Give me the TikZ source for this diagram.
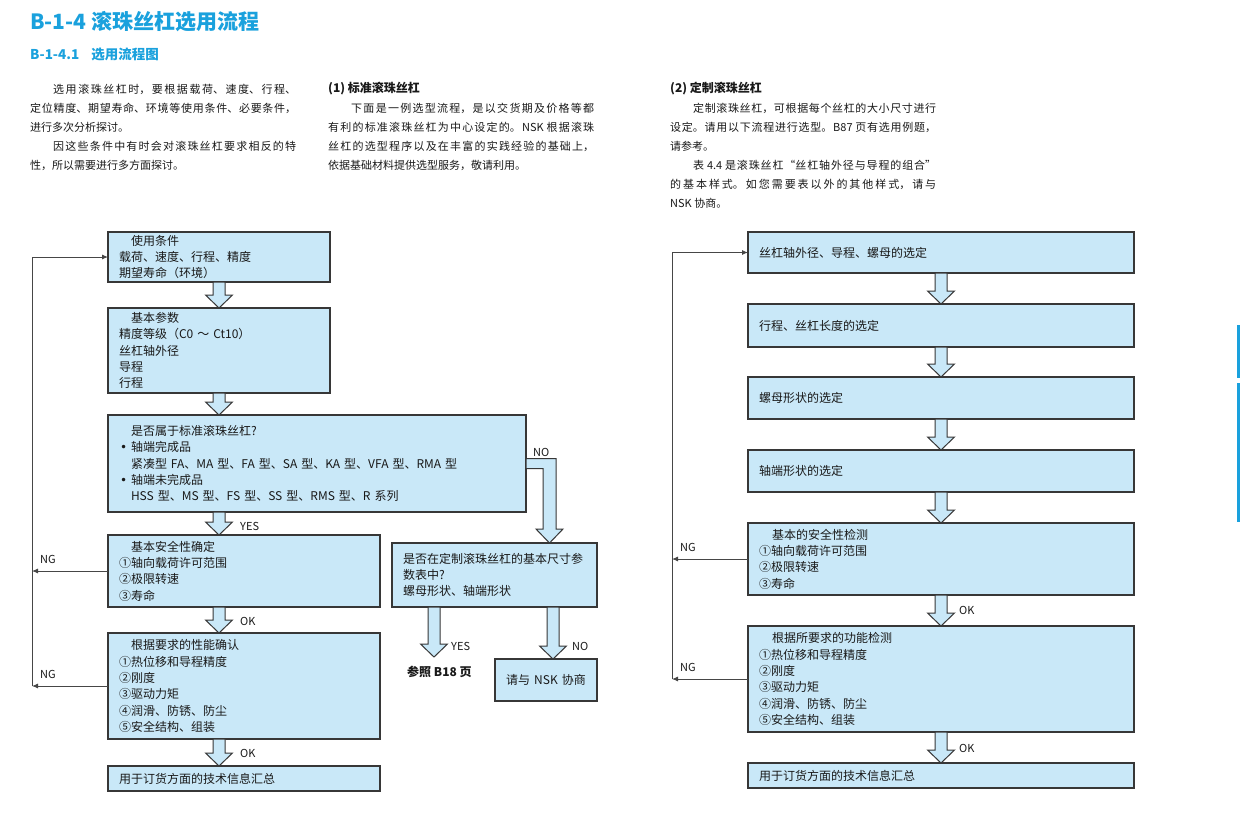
\documentclass[tikz,border=0pt]{standalone}
\usepackage{fontspec}
\setmainfont{Noto Sans CJK SC}
\newfontfamily\bulletfont{DejaVu Sans}
\usetikzlibrary{arrows.meta,calc}
\definecolor{titleblue}{RGB}{26,161,221}
\definecolor{boxfill}{RGB}{201,232,248}
\definecolor{boxline}{RGB}{55,55,55}
\definecolor{linegray}{RGB}{70,70,70}
\definecolor{bodytext}{RGB}{25,25,25}
\newcommand{\cjkbreaks}{\XeTeXlinebreaklocale "zh"\XeTeXlinebreakskip=0pt plus 3pt\relax\tolerance=9999\parindent=0pt\parskip=0pt\relax}
\newcommand{\itembullet}{\makebox[12pt][l]{\hspace{1pt}{\bulletfont •}}}
\newcommand{\blockdown}[2]{%
  \draw[blockarrow] let \p1=(#1), \p2=(#2) in
    (\x1-6pt,\y1) -- (\x1+6pt,\y1) -- (\x1+6pt,\y2+13pt) -- (\x1+13.5pt,\y2+13pt)
    -- (\x1,\y2) -- (\x1-13.5pt,\y2+13pt) -- (\x1-6pt,\y2+13pt) -- cycle;}
\begin{document}
\begin{tikzpicture}[x=1pt,y=-1pt,
    box/.style={draw=boxline, fill=boxfill, line width=1.1pt, anchor=north west, inner xsep=11pt, inner ysep=0pt, outer sep=0pt, align=left, text=bodytext, font=\fontsize{12}{16.3}\selectfont},
    blockarrow/.style={draw=boxline, fill=boxfill, line width=1pt, line join=miter},
    fb/.style={draw=linegray, line width=0.9pt, -{Latex[length=6pt,width=5pt]}},
    lbl/.style={anchor=west, inner sep=0pt, text=bodytext, font=\fontsize{11}{13}\selectfont},
    para/.style={anchor=north west, inner sep=0pt, text width=266, align=justify, text=bodytext, font=\fontsize{11}{19.1}\selectfont\cjkbreaks}]
    \path[use as bounding box, fill=white] (0,0) rectangle (1240,820);

    \node[anchor=west, inner sep=0pt, text=titleblue, font=\fontsize{21}{25}\selectfont\bfseries] (title) at (30,22) {B-1-4 滚珠丝杠选用流程};
    \node[anchor=west, inner sep=0pt, text=titleblue, font=\fontsize{13.5}{16}\selectfont\bfseries] (subtitle) at (30,54) {B-1-4.1\hspace{12pt}选用流程图};

    \node[para] (intro) at (30,83.5) {\hspace*{23pt}选用滚珠丝杠时，要根据载荷、速度、行程、\linebreak 定位精度、期望寿命、环境等使用条件、必要条件，\linebreak 进行多次分析探讨。\par\hspace*{23pt}因这些条件中有时会对滚珠丝杠要求相反的特\linebreak 性，所以需要进行多方面探讨。};
    \node[anchor=west, inner sep=0pt, text=bodytext, font=\fontsize{12}{14}\selectfont\bfseries] (stdhead) at (328,89) {(1) 标准滚珠丝杠};
    \node[para] (stdtext) at (328,102.5) {\hspace*{23pt}下面是一例选型流程，是以交货期及价格等都\linebreak 有利的标准滚珠丝杠为中心设定的。NSK 根据滚珠\linebreak 丝杠的选型程序以及在丰富的实践经验的基础上，\linebreak 依据基础材料提供选型服务，敬请利用。};
    \node[anchor=west, inner sep=0pt, text=bodytext, font=\fontsize{12}{14}\selectfont\bfseries] (cushead) at (670,89) {(2) 定制滚珠丝杠};
    \node[para] (custext) at (670,102.5) {\hspace*{23pt}定制滚珠丝杠，可根据每个丝杠的大小尺寸进行\linebreak 设定。请用以下流程进行选型。B87 页有选用例题，\linebreak 请参考。\par\hspace*{23pt}表 4.4 是滚珠丝杠“丝杠轴外径与导程的组合”\linebreak 的基本样式。如您需要表以外的其他样式，请与\linebreak NSK 协商。};

    \node[box, text width=200, minimum height=50] (A) at (108,232) {\hspace*{12pt}使用条件\\载荷、速度、行程、精度\\期望寿命（环境）};
    \node[box, text width=200, minimum height=85] (B) at (108,308) {\hspace*{12pt}基本参数\\精度等级（C0 ～ Ct10）\\丝杠轴外径\\导程\\行程};
    \node[box, text width=396, minimum height=97] (C) at (108,415) {\hspace*{12pt}是否属于标准滚珠丝杠?\\\itembullet 轴端完成品\\\hspace*{12pt}紧凑型 FA、MA 型、FA 型、SA 型、KA 型、VFA 型、RMA 型\\\itembullet 轴端未完成品\\\hspace*{12pt}HSS 型、MS 型、FS 型、SS 型、RMS 型、R 系列};
    \node[box, text width=250, minimum height=72] (D) at (108,535) {\hspace*{12pt}基本安全性确定\\①轴向载荷许可范围\\②极限转速\\③寿命};
    \node[box, text width=250, minimum height=106] (E) at (108,633) {\hspace*{12pt}根据要求的性能确认\\①热位移和导程精度\\②刚度\\③驱动力矩\\④润滑、防锈、防尘\\⑤安全结构、组装};
    \node[box, text width=250, minimum height=25] (F) at (108,766) {用于订货方面的技术信息汇总};
    \node[box, text width=183, minimum height=64] (G) at (392,543) {是否在定制滚珠丝杠的基本尺寸参\\数表中?\\螺母形状、轴端形状};
    \node[box, text width=80, minimum height=42, align=center] (H) at (495,659) {请与 NSK 协商};

    \blockdown{A.south}{B.north}
    \blockdown{B.south}{C.north}
    \blockdown{C.south -| A.south}{D.north}
    \blockdown{D.south -| A.south}{E.north}
    \blockdown{E.south -| A.south}{F.north}

    \coordinate (nocol) at (549.5,0);
    \draw[blockarrow] let \p1=(C.east), \p2=(nocol |- G.north) in
      (\x1,\y1+5pt) -- (\x2+6.5pt,\y1+5pt) -- (\x2+6.5pt,\y2+14pt) -- (\x2+13.5pt,\y2+14pt)
      -- (\x2,\y2) -- (\x2-13.5pt,\y2+14pt) -- (\x2-6.5pt,\y2+14pt) -- (\x2-6.5pt,\y1-5pt) -- (\x1,\y1-5pt) -- cycle;

    \node[anchor=west, inner sep=0pt, text=bodytext, font=\fontsize{12}{14}\selectfont\bfseries] (refB) at (407,672) {参照 B18 页};
    \coordinate (yescol) at (434,657);
    \coordinate (nocolG) at (553,0);
    \blockdown{G.south -| yescol}{yescol}
    \blockdown{G.south -| nocolG}{H.north}

    \node[lbl] (noC) at (533,452) {NO};
    \node[lbl] (yesC) at (240,526) {YES};
    \node[lbl] (okD) at (240,621) {OK};
    \node[lbl] (okE) at (240,753) {OK};
    \node[lbl] (yesG) at (451,646) {YES};
    \node[lbl] (noG) at (572,646) {NO};

    \coordinate (loopL) at (32,0);
    \draw[fb] (D.west) -- (D.west -| loopL);
    \draw[fb] (E.west) -- (E.west -| loopL);
    \draw[fb] (E.west -| loopL) |- (A.west);
    \node[lbl] (ngD) at (40,559) {NG};
    \node[lbl] (ngE) at (40,674) {NG};

    \node[box, text width=364, minimum height=41] (R1) at (748,232) {丝杠轴外径、导程、螺母的选定};
    \node[box, text width=364, minimum height=43] (R2) at (748,304) {行程、丝杠长度的选定};
    \node[box, text width=364, minimum height=42] (R3) at (748,377) {螺母形状的选定};
    \node[box, text width=364, minimum height=42] (R4) at (748,450) {轴端形状的选定};
    \node[box, text width=364, minimum height=72] (R5) at (748,523) {\hspace*{13pt}基本的安全性检测\\①轴向载荷许可范围\\②极限转速\\③寿命};
    \node[box, text width=364, minimum height=106] (R6) at (748,626) {\hspace*{13pt}根据所要求的功能检测\\①热位移和导程精度\\②刚度\\③驱动力矩\\④润滑、防锈、防尘\\⑤安全结构、组装};
    \node[box, text width=364, minimum height=25] (R7) at (748,763) {用于订货方面的技术信息汇总};

    \blockdown{R1.south}{R2.north}
    \blockdown{R2.south}{R3.north}
    \blockdown{R3.south}{R4.north}
    \blockdown{R4.south}{R5.north}
    \blockdown{R5.south}{R6.north}
    \blockdown{R6.south}{R7.north}
    \node[lbl] (okR5) at (959,610) {OK};
    \node[lbl] (okR6) at (959,748) {OK};

    \coordinate (loopR) at (672,0);
    \draw[fb] (R5.west) -- (R5.west -| loopR);
    \draw[fb] (R6.west) -- (R6.west -| loopR);
    \draw[fb] (R6.west -| loopR) |- (R1.west);
    \node[lbl] (ngR5) at (680,547) {NG};
    \node[lbl] (ngR6) at (680,667) {NG};

    \fill[titleblue] (1237,325) rectangle (1240,378);
    \fill[titleblue] (1237,383) rectangle (1240,522);
\end{tikzpicture}
\end{document}
